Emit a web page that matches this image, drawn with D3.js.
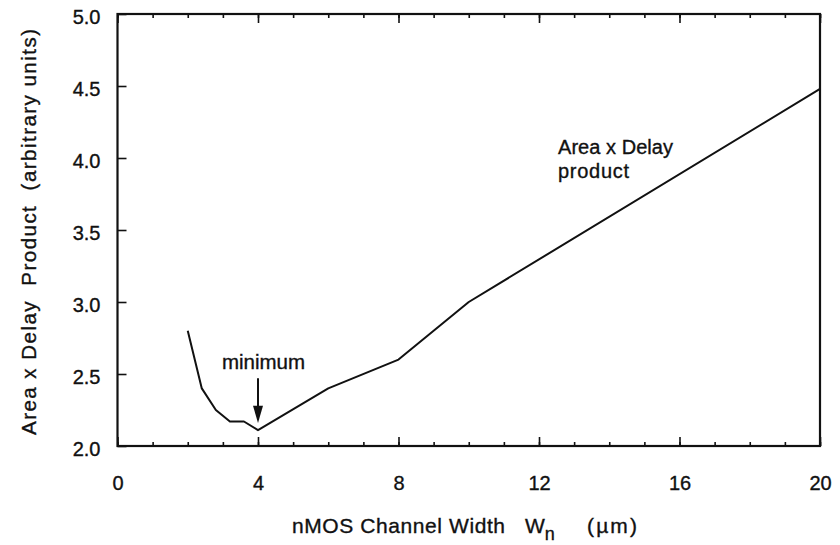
<!DOCTYPE html>
<html>
<head>
<meta charset="utf-8">
<script src="https://cdn.jsdelivr.net/npm/d3@7"></script>
<style>
  body { margin: 0; background: #fff; }
  svg { display: block; font-family: "Liberation Sans", Arial, Helvetica, sans-serif; }
  svg text { stroke: #111; stroke-width: 0.35px; }
  .axis text { font-size: 20px; fill: #111; }
  .axis line { stroke: #111; stroke-width: 1.6; }
</style>
</head>
<body>
<div id="chart"></div>
<script>
// nMOS width (um) vs area x delay product
var widthN = [2, 2.4, 2.8, 3.2, 3.6, 4, 6, 8, 10, 20];
var product = [2.80, 2.40, 2.25, 2.17, 2.17, 2.11, 2.40, 2.60, 3.00, 4.48];

var xMajor = [0, 4, 8, 12, 16, 20];
var xMinor = d3.range(0, 21, 1);
var yMajor = [2.0, 2.5, 3.0, 3.5, 4.0, 4.5, 5.0];

var width = 840,
  height = 545,
  margin = { top: 14, right: 20, bottom: 99, left: 117.5 };

var svg = d3.select('#chart')
  .append('svg')
  .attr('width', width)
  .attr('height', height);

var x = d3.scaleLinear().domain([0, 20]).range([margin.left, width - margin.right]);
var y = d3.scaleLinear().domain([2, 5]).range([height - margin.bottom, margin.top]);

// minor ticks, bottom + top
svg.append('g')
  .attr('class', 'axis')
  .attr('transform', 'translate(0,' + y(2) + ')')
  .call(d3.axisBottom(x).tickValues(xMinor).tickSize(-4).tickFormat(''));
svg.append('g')
  .attr('class', 'axis')
  .attr('transform', 'translate(0,' + y(5) + ')')
  .call(d3.axisTop(x).tickValues(xMinor).tickSize(-4).tickFormat(''));

// major ticks with labels
svg.append('g')
  .attr('class', 'axis')
  .attr('transform', 'translate(0,' + y(2) + ')')
  .call(d3.axisBottom(x).tickValues(xMajor).tickSize(-9).tickPadding(30).tickFormat(d3.format('d')));
svg.append('g')
  .attr('class', 'axis')
  .attr('transform', 'translate(0,' + y(5) + ')')
  .call(d3.axisTop(x).tickValues(xMajor).tickSize(-9).tickFormat(''));

svg.append('g')
  .attr('class', 'axis')
  .attr('transform', 'translate(' + x(0) + ',0)')
  .call(d3.axisLeft(y).tickValues(yMajor).tickSize(-9).tickPadding(17).tickFormat(d3.format('.1f')))
  .selectAll('text').attr('dy', '0.48em');

svg.selectAll('.axis .domain').remove();

// frame
svg.append('rect')
  .attr('x', x(0))
  .attr('y', y(5))
  .attr('width', x(20) - x(0))
  .attr('height', y(2) - y(5))
  .attr('fill', 'none')
  .attr('stroke', '#111')
  .attr('stroke-width', 2.2);

// curve
var line = d3.line()
  .x(function(d, i) { return x(widthN[i]); })
  .y(function(d) { return y(d); });

svg.append('path')
  .datum(product)
  .attr('d', line)
  .attr('fill', 'none')
  .attr('stroke', '#111')
  .attr('stroke-width', 2)
  .attr('stroke-linejoin', 'round');

// minimum annotation + arrow
svg.append('text')
  .attr('x', 222)
  .attr('y', y(2.535))
  .attr('textLength', 83)
  .attr('lengthAdjust', 'spacing')
  .style('font-size', '20.5px')
  .attr('fill', '#111')
  .text('minimum');

svg.append('line')
  .attr('x1', x(4)).attr('x2', x(4))
  .attr('y1', y(2.47)).attr('y2', y(2.25))
  .attr('stroke', '#111')
  .attr('stroke-width', 2);

svg.append('path')
  .attr('d', 'M' + (x(4) - 5) + ',' + y(2.28) + 'L' + (x(4) + 5) + ',' + y(2.28) + 'L' + x(4) + ',' + y(2.16) + 'Z')
  .attr('fill', '#111');

// curve label
svg.append('text')
  .attr('x', 558)
  .attr('y', y(4.03))
  .attr('textLength', 115)
  .attr('lengthAdjust', 'spacing')
  .style('font-size', '20px')
  .attr('fill', '#111')
  .text('Area x Delay');
svg.append('text')
  .attr('x', 558)
  .attr('y', y(4.03) + 24)
  .attr('textLength', 71)
  .attr('lengthAdjust', 'spacing')
  .style('font-size', '20px')
  .attr('fill', '#111')
  .text('product');

// x axis title
svg.append('text')
  .attr('x', 292).attr('y', 533)
  .attr('textLength', 213)
  .attr('lengthAdjust', 'spacing')
  .style('font-size', '21px')
  .attr('fill', '#111')
  .text('nMOS Channel Width');
var wn = svg.append('text')
  .attr('x', 525).attr('y', 533)
  .style('font-size', '21px')
  .attr('fill', '#111');
wn.append('tspan').text('W');
wn.append('tspan').attr('dy', 7).style('font-size', '18px').text('n');
svg.append('text')
  .attr('x', 587).attr('y', 533)
  .attr('textLength', 50)
  .attr('lengthAdjust', 'spacing')
  .style('font-size', '21px')
  .attr('fill', '#111')
  .text('(\u00b5m)');

// y axis title
svg.append('text')
  .attr('transform', 'translate(36,435) rotate(-90)')
  .attr('xml:space', 'preserve')
  .attr('textLength', 406)
  .attr('lengthAdjust', 'spacing')
  .style('font-size', '20.5px')
  .attr('fill', '#111')
  .text('Area x Delay  Product  (arbitrary units)');
</script>
</body>
</html>
